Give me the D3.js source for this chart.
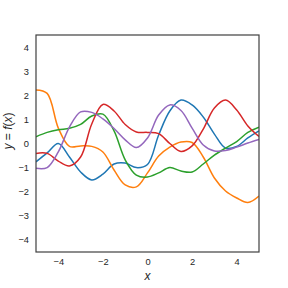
<!DOCTYPE html>
<html>
<head>
<meta charset="utf-8">
<script src="https://cdn.jsdelivr.net/npm/d3@7"></script>
<style>
  html, body { margin: 0; padding: 0; background: #fff; }
  text { font-family: "Liberation Sans", Arial, sans-serif; fill: #262626; }
</style>
</head>
<body>
<div id="chart"></div>
<script>
// sample points on x, one value per x for each drawn function
let xs = [-5, -4.5, -4, -3.5, -3, -2.5, -2, -1.5, -1, -0.5, 0, 0.5, 1, 1.5, 2, 2.5, 3, 3.5, 4, 4.5, 5];

let blue   = [-0.76, -0.39, 0.0, -0.56, -1.18, -1.51, -1.27, -0.85, -0.81, -1.00, -0.87, 0.35, 1.35, 1.80, 1.60, 1.10, 0.39, -0.19, -0.12, 0.23, 0.52];
let orange = [2.22, 2.08, 0.64, -0.12, -0.10, -0.12, -0.35, -1.10, -1.72, -1.80, -1.22, -0.52, -0.15, 0.06, 0.04, -0.56, -1.43, -1.97, -2.26, -2.45, -2.18];
let green  = [0.28, 0.46, 0.57, 0.63, 0.79, 1.14, 1.22, 0.52, -0.68, -1.31, -1.39, -1.22, -1.00, -1.14, -1.18, -0.85, -0.48, -0.19, 0.08, 0.46, 0.68];
let red    = [-0.41, -0.41, -0.73, -0.93, -0.56, 0.81, 1.62, 1.35, 0.79, 0.48, 0.46, 0.41, 0.0, -0.33, -0.10, 0.60, 1.47, 1.80, 1.39, 0.73, 0.29];
let purple = [-1.03, -1.00, -0.35, 0.68, 1.31, 1.29, 1.02, 0.62, 0.15, -0.17, 0.23, 1.18, 1.60, 1.37, 0.64, -0.06, -0.31, -0.29, -0.15, 0.02, 0.17];

let seriesNames = ["blue", "orange", "green", "red", "purple"];
let seriesColors = ["#1f77b4", "#ff7f0e", "#2ca02c", "#d62728", "#9467bd"];
let seriesVals = [blue, orange, green, red, purple];

let xTicks = [-4, -2, 0, 2, 4];
let yTicks = [-4, -3, -2, -1, 0, 1, 2, 3, 4];

let width = 288, height = 288;
let margin = {left: 36, right: 29, top: 35, bottom: 36};

let svg = d3.select("#chart").append("svg")
    .attr("width", width)
    .attr("height", height);

let x = d3.scaleLinear().domain([-5, 5]).range([margin.left, width - margin.right]);
let y = d3.scaleLinear().domain([-4.5, 4.5]).range([height - margin.bottom, margin.top]);

svg.append("clipPath").attr("id", "plotclip")
    .append("rect")
    .attr("x", margin.left).attr("y", margin.top)
    .attr("width", width - margin.left - margin.right)
    .attr("height", height - margin.top - margin.bottom);

let line = d3.line()
    .x(function(d) { return x(d[0]); })
    .y(function(d) { return y(d[1]); })
    .curve(d3.curveCatmullRom.alpha(0.5));

for (let s in seriesVals) {
    let pts = xs.map(function(v, i) { return [v, seriesVals[s][i]]; });
    svg.append("path")
        .attr("class", "series " + seriesNames[s])
        .attr("clip-path", "url(#plotclip)")
        .attr("d", line(pts))
        .attr("fill", "none")
        .attr("stroke", seriesColors[s])
        .attr("stroke-width", 1.5);
}

// axes: no tick marks, just labels
let fmt = function(d) { return d < 0 ? "\u2212" + Math.abs(d) : "" + d; };

let xAxis = svg.append("g")
    .attr("transform", "translate(0," + (height - margin.bottom) + ")")
    .call(d3.axisBottom(x).tickValues(xTicks).tickSize(0).tickPadding(6).tickFormat(fmt));
let yAxis = svg.append("g")
    .attr("transform", "translate(" + margin.left + ",0)")
    .call(d3.axisLeft(y).tickValues(yTicks).tickSize(0).tickPadding(7).tickFormat(fmt));

[xAxis, yAxis].forEach(function(ax) {
    ax.select(".domain").remove();
    ax.selectAll("text")
        .style("font-family", "'Liberation Sans', Arial, sans-serif")
        .style("font-size", "9.3px")
        .attr("fill", "#262626");
});

// frame
svg.append("rect")
    .attr("x", margin.left).attr("y", margin.top)
    .attr("width", width - margin.left - margin.right)
    .attr("height", height - margin.top - margin.bottom)
    .attr("fill", "none")
    .attr("stroke", "#404040")
    .attr("stroke-width", 1.2);

// axis labels
svg.append("text")
    .attr("x", x(0))
    .attr("y", 280)
    .attr("text-anchor", "middle")
    .style("font-size", "12px")
    .style("font-style", "italic")
    .text("x");

let ylab = svg.append("text")
    .attr("transform", "translate(12,131) rotate(-90)")
    .attr("text-anchor", "middle")
    .style("font-size", "12px");
ylab.append("tspan").style("font-style", "italic").text("y");
ylab.append("tspan").text(" = ");
ylab.append("tspan").style("font-style", "italic").text("f");
ylab.append("tspan").text("(");
ylab.append("tspan").style("font-style", "italic").text("x");
ylab.append("tspan").text(")");
</script>
</body>
</html>
